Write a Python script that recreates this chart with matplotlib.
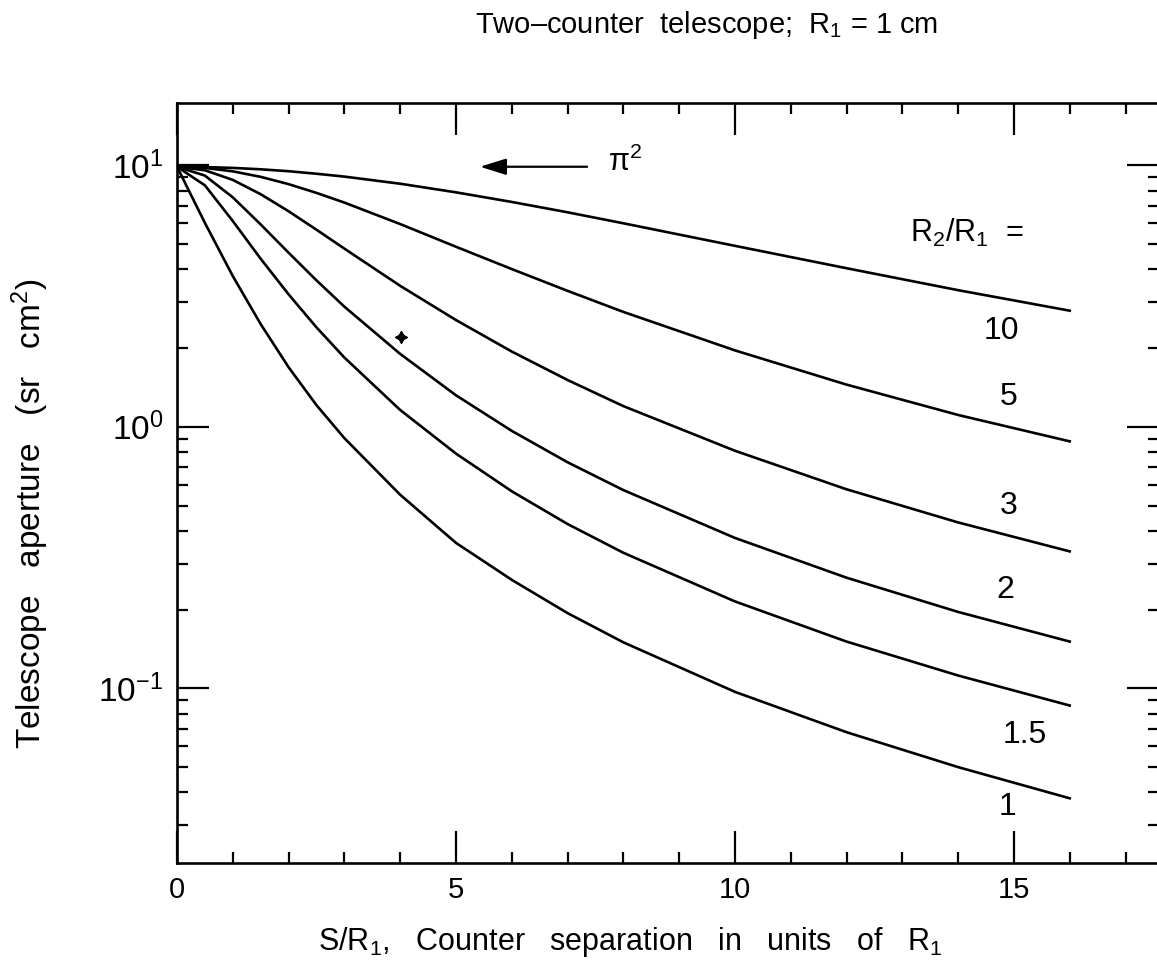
import matplotlib
matplotlib.use("Agg")
import matplotlib.pyplot as plt
from matplotlib.ticker import MultipleLocator, LogLocator, FixedLocator, NullFormatter

plt.rcParams['font.family'] = ['Liberation Sans', 'DejaVu Sans']
plt.rcParams['mathtext.fontset'] = 'custom'
plt.rcParams['mathtext.rm'] = 'Liberation Sans'
plt.rcParams['mathtext.it'] = 'Liberation Sans:italic'
plt.rcParams['mathtext.bf'] = 'Liberation Sans:bold'
plt.rcParams['mathtext.default'] = 'regular'

# Counter separation S/R1
sep = [0, 0.5, 1, 1.5, 2, 2.5, 3, 4, 5, 6, 7, 8, 10, 12, 14, 16]

# Telescope aperture (sr cm^2) read for each R2/R1 ratio
ratios = ['10', '5', '3', '2', '1.5', '1']
ap_10 = [9.87, 9.84, 9.77, 9.65, 9.49, 9.28, 9.05, 8.50, 7.88, 7.24, 6.61, 6.00, 4.92, 4.04, 3.33, 2.78]
ap_5 = [9.87, 9.77, 9.48, 9.03, 8.47, 7.84, 7.20, 5.96, 4.88, 4.01, 3.31, 2.75, 1.96, 1.45, 1.11, 0.88]
ap_3 = [9.87, 9.57, 8.79, 7.75, 6.67, 5.67, 4.80, 3.46, 2.56, 1.94, 1.51, 1.20, 0.81, 0.577, 0.431, 0.334]
ap_2 = [9.87, 9.13, 7.54, 5.94, 4.63, 3.63, 2.88, 1.90, 1.32, 0.965, 0.732, 0.573, 0.376, 0.265, 0.196, 0.151]
ap_15 = [9.87, 8.38, 6.12, 4.39, 3.21, 2.40, 1.84, 1.16, 0.79, 0.567, 0.425, 0.330, 0.215, 0.151, 0.112, 0.086]
ap_1 = [9.87, 6.02, 3.77, 2.47, 1.69, 1.21, 0.905, 0.55, 0.36, 0.26, 0.194, 0.150, 0.097, 0.068, 0.050, 0.038]
series = [ap_10, ap_5, ap_3, ap_2, ap_15, ap_1]

# label anchor points (data coords)
label_x = [14.77, 14.9, 14.9, 14.84, 15.2, 14.88]
label_y = [2.32, 1.30, 0.50, 0.237, 0.0662, 0.0351]

xticks = [0, 5, 10, 15]
yticks = [0.1, 1, 10]
ytick_labels = ["10$^{\u22121}$", "10$^{0}$", "10$^{1}$"]

W, H = 1157, 973
fig = plt.figure(figsize=(W / 100, H / 100), dpi=100)
ax = fig.add_axes([177 / W, 110 / H, 982 / W, 760 / H])

for ys in series:
    ax.plot(sep, ys, color='black', lw=1.9, solid_joinstyle='round')

ax.set_yscale('log')
ax.set_xlim(0, 17.6)
ax.set_ylim(0.0215, 17.3)

ax.xaxis.set_major_locator(FixedLocator(xticks))
ax.xaxis.set_minor_locator(MultipleLocator(1))
ax.set_xticklabels([str(t) for t in xticks])
ax.yaxis.set_major_locator(FixedLocator(yticks))
ax.yaxis.set_minor_locator(LogLocator(base=10, subs=[2, 3, 4, 5, 6, 7, 8, 9]))
ax.yaxis.set_minor_formatter(NullFormatter())
ax.set_yticklabels(ytick_labels)

ax.tick_params(which='both', direction='in', top=True, right=True, width=1.6, colors='black')
ax.tick_params(which='major', length=23, pad=9)
ax.tick_params(axis='x', which='major', labelsize=21)
ax.tick_params(axis='y', which='major', labelsize=24, pad=10)
ax.tick_params(which='minor', length=8)
for s in ax.spines.values():
    s.set_linewidth(1.9)

# curve labels
for txt, lx, ly in zip(ratios, label_x, label_y):
    ax.text(lx, ly, txt, fontsize=23, ha='center', va='center')
ax.text(13.14, 5.5, r"R$_2$/R$_1$  =", fontsize=22, ha='left', va='center')

# pi^2 arrow
ax.annotate('', xy=(5.43, 9.87), xytext=(7.35, 9.87),
            arrowprops=dict(arrowstyle='-|>,head_length=1.6,head_width=0.5', color='black', lw=1.6,
                            shrinkA=0, shrinkB=0))
ax.text(7.72, 10.3, r"$\pi^2$", fontsize=22, ha='left', va='center')

# small star mark
ax.plot([4.01], [2.21], marker=(4, 1, 0), color='black', ms=9, mew=0.8)

fig.text(475 / W, 1 - 33 / H, "Two\u2013counter  telescope;  R$_1$ = 1 cm", fontsize=21, ha='left', va='baseline')
fig.text(318 / W, 1 - 950 / H, "S/R$_1$,   Counter   separation   in   units   of   R$_1$", fontsize=22, ha='left', va='baseline')
fig.text(30 / W, 1 - 514 / H, "Telescope   aperture   (sr   cm$^2$)", fontsize=24, rotation=90, ha='center', va='center')

fig.savefig("out.png", dpi=100)
